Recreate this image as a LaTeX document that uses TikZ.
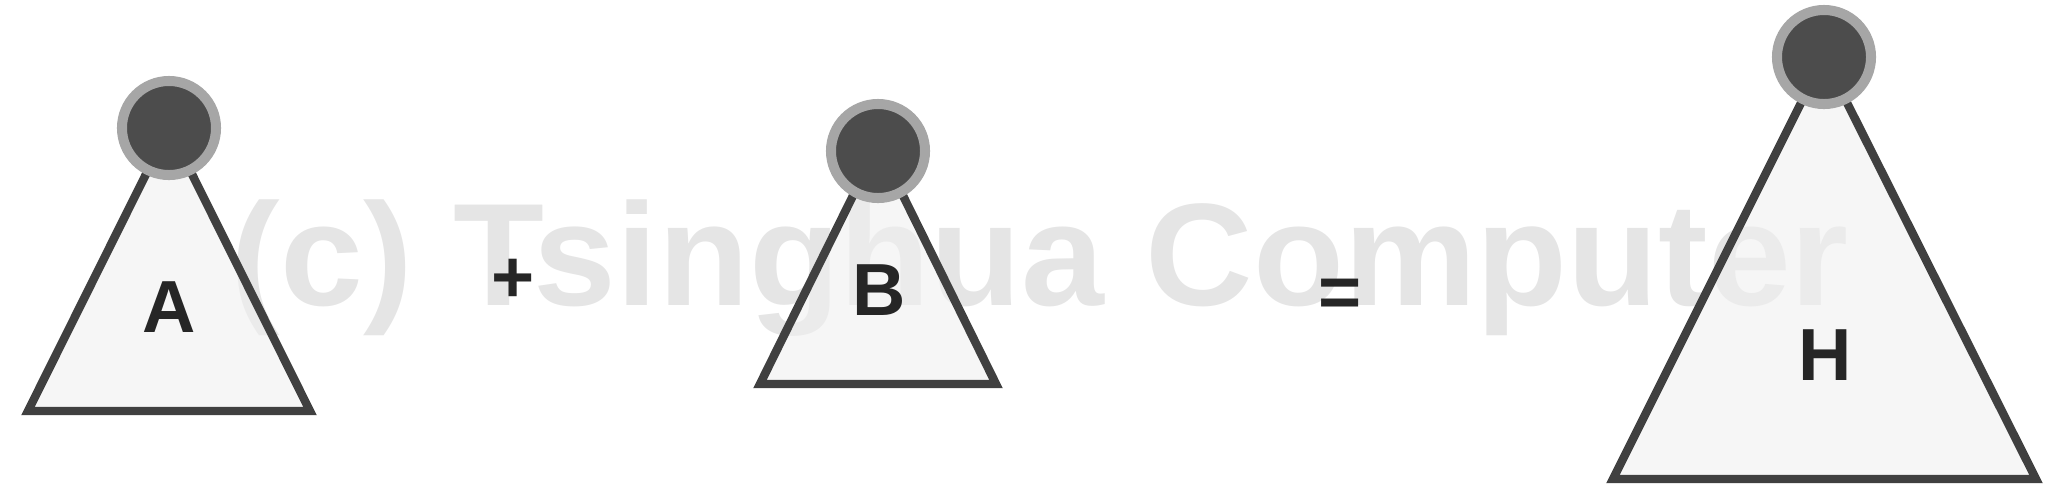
\documentclass[tikz,border=0pt]{standalone}
\usepackage{fontspec}
\setmainfont{Liberation Sans}
\usepackage{tikz}

\begin{document}
\begin{tikzpicture}[
    x=0.01cm, y=-0.01cm,
    tree/.style={draw=black!75, line width=2.4pt, fill=black!6, fill opacity=0.6, draw opacity=1},
    root/.style={circle, draw=black!35, line width=2.85pt, fill=black!70, minimum size=0.94cm, inner sep=0pt},
    letter/.style={font=\fontsize{21}{22}\selectfont\bfseries, text=black!85, inner sep=0pt, anchor=base},
    sign/.style={letter},
    stamp/.style={font=\fontsize{41.5}{44}\selectfont\bfseries, text=black!10, inner sep=0pt, anchor=base west, xscale=1.02}
]
\useasboundingbox (0,0) rectangle (2066,493);

\node[stamp] (wm) at (230,305) {(c) Tsinghua Computer};

% the three trees
\draw[tree] (169,128) -- (28,411) -- (310,411) -- cycle;
\draw[tree] (878,145) -- (760,384) -- (996,384) -- cycle;
\draw[tree] (1824,57) -- (1613,479) -- (2036,479) -- cycle;

\node[root] (rootA) at (169,128) {};
\node[root] (rootB) at (878,151) {};
\node[root] (rootH) at (1824,57) {};

\node[letter] (treeA) at (169,332) {A};
\node[letter] (treeB) at (879,315) {B};
\node[letter] (treeH) at (1825,380) {H};

\node[sign] (plus) at (513,302) {+};
\node[sign] (equals) at (1340,317) {=};
\end{tikzpicture}
\end{document}
